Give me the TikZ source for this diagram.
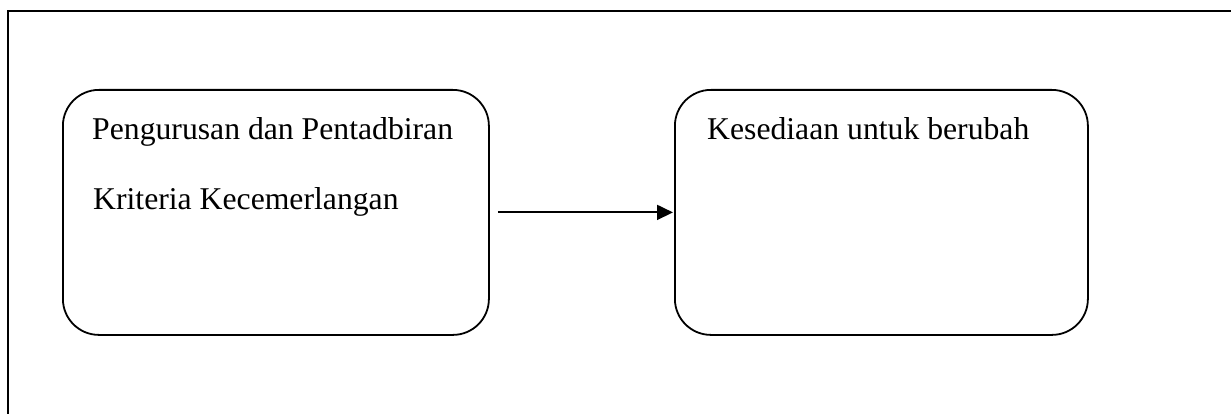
\documentclass[tikz,border=0pt]{standalone}
\usepackage{fontspec}
\setmainfont{Liberation Serif}
\usetikzlibrary{arrows.meta}
\begin{document}
\begin{tikzpicture}[x=1pt,y=-1pt,
  box/.style={draw=black,line width=1.8pt,rounded corners=36pt,minimum width=#1,minimum height=245pt,inner sep=0pt,anchor=north west},
  lbl/.style={anchor=base west,inner sep=0pt,font=\fontsize{31.7}{38}\selectfont},
  conn/.style={line width=1.8pt,-{Triangle[length=16pt,width=15pt]}}]
\useasboundingbox (0,0) rectangle (1231,414);
\fill[white] (0,0) rectangle (1231,414);
\draw[line width=1.8pt] (8,414) -- (8,11) -- (1231,11);
\node[box=426pt] (lb) at (62,89) {};
\node[box=413pt] (rb) at (674,89) {};
\node[lbl] (t1) at (92,140) {Pengurusan dan Pentadbiran};
\node[lbl] (t2) at (93,210) {Kriteria Kecemerlangan};
\node[lbl] (t3) at (707,140) {Kesediaan untuk berubah};
\draw[conn,shorten <=8pt,shorten >=1pt] (lb.east) -- (rb.west);
\end{tikzpicture}
\end{document}
